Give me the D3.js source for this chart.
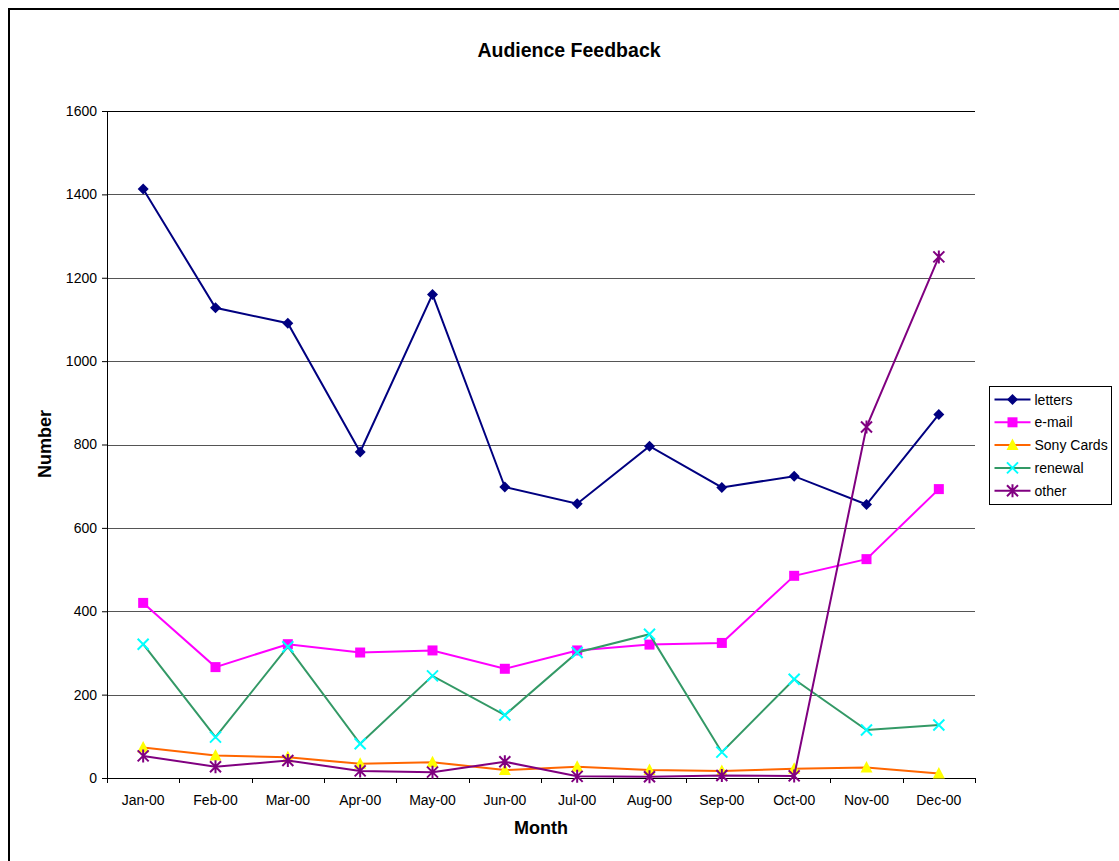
<!DOCTYPE html>
<html>
<head>
<meta charset="utf-8">
<script src="https://cdn.jsdelivr.net/npm/d3@7"></script>
<style>
  body { margin: 0; background: #fff; }
  text { font-family: "Liberation Sans", Arial, sans-serif; fill: #000; }
</style>
</head>
<body>
<svg id="chart"></svg>
<script>
// chart values
const months = ['Jan-00', 'Feb-00', 'Mar-00', 'Apr-00', 'May-00', 'Jun-00',
                'Jul-00', 'Aug-00', 'Sep-00', 'Oct-00', 'Nov-00', 'Dec-00'];
const letters = [1413, 1128, 1091, 782, 1160, 698, 658, 796, 697, 724, 656, 872];
const email = [420, 266, 321, 301, 306, 262, 306, 320, 324, 485, 525, 693];
const sonyCards = [73, 54, 50, 34, 38, 19, 27, 19, 17, 22, 25, 11];
const renewal = [321, 98, 315, 82, 245, 151, 301, 345, 62, 237, 115, 127];
const other = [53, 27, 42, 17, 14, 39, 4, 3, 6, 5, 842, 1250];
const yTicks = [0, 200, 400, 600, 800, 1000, 1200, 1400, 1600];

const series = [
    { name: 'letters', values: letters, line: '#000080', fill: '#000080', marker: 'diamond' },
    { name: 'e-mail', values: email, line: '#FF00FF', fill: '#FF00FF', marker: 'square' },
    { name: 'Sony Cards', values: sonyCards, line: '#FF6600', fill: '#FFFF00', marker: 'triangle' },
    { name: 'renewal', values: renewal, line: '#339966', fill: '#00FFFF', marker: 'cross' },
    { name: 'other', values: other, line: '#800080', fill: '#800080', marker: 'star' }
];

const W = 1119, H = 861;
const margin = { top: 111, right: 144, bottom: 83, left: 107 };
const width = W - margin.left - margin.right;
const height = H - margin.top - margin.bottom;

const svg = d3.select('#chart').attr('width', W).attr('height', H);

// outer chart border (only left and top visible)
svg.append('rect')
    .attr('x', 9).attr('y', 9)
    .attr('width', 1200).attr('height', 1000)
    .attr('fill', 'none').attr('stroke', '#000').attr('stroke-width', 2);

const chart = svg.append('g')
    .attr('transform', `translate(${margin.left},${margin.top})`);

const xScale = d3.scaleBand().domain(months).range([0, width]);
const yScale = d3.scaleLinear().domain([0, 1600]).range([height, 0]);

// gridlines
chart.append('g')
    .selectAll('line')
    .data(yTicks.filter(d => d > 0))
    .join('line')
    .attr('x1', 0).attr('x2', width)
    .attr('y1', d => Math.round(yScale(d)) + 0.5)
    .attr('y2', d => Math.round(yScale(d)) + 0.5)
    .attr('stroke', d => d === 1600 ? '#000' : '#555')
    .attr('stroke-width', 1);

// y axis
const yAxis = d3.axisLeft(yScale).tickValues(yTicks).tickFormat(d3.format('d'))
    .tickSize(5).tickPadding(5).tickSizeOuter(0);
const yAxisGroup = chart.append('g').call(yAxis);
yAxisGroup.select('.domain').attr('stroke', '#000');
yAxisGroup.selectAll('text').style('font-size', '14px').style('font-family', '"Liberation Sans", Arial, sans-serif');

// x axis with ticks between categories
const xAxisGroup = chart.append('g').attr('transform', `translate(0,${height})`);
xAxisGroup.append('line')
    .attr('x1', 0).attr('x2', width)
    .attr('y1', 0.5).attr('y2', 0.5)
    .attr('stroke', '#000');
xAxisGroup.selectAll('.tick-mark')
    .data(d3.range(months.length + 1))
    .join('line')
    .attr('class', 'tick-mark')
    .attr('x1', i => Math.round(i * xScale.step()) + 0.5)
    .attr('x2', i => Math.round(i * xScale.step()) + 0.5)
    .attr('y1', 0).attr('y2', 5)
    .attr('stroke', '#000');
xAxisGroup.selectAll('.tick-label')
    .data(months)
    .join('text')
    .attr('class', 'tick-label')
    .attr('x', d => xScale(d) + xScale.bandwidth() / 2)
    .attr('y', 27)
    .attr('text-anchor', 'middle')
    .style('font-size', '14px')
    .text(d => d);

// titles
svg.append('text')
    .attr('x', 569).attr('y', 57)
    .attr('text-anchor', 'middle')
    .style('font-size', '19.5px').style('font-weight', 'bold')
    .text('Audience Feedback');

svg.append('text')
    .attr('x', 541).attr('y', 834)
    .attr('text-anchor', 'middle')
    .style('font-size', '18px').style('font-weight', 'bold')
    .text('Month');

svg.append('text')
    .attr('transform', 'translate(51,444) rotate(-90)')
    .attr('text-anchor', 'middle')
    .style('font-size', '18px').style('font-weight', 'bold')
    .text('Number');

function drawMarker(g, type, fill) {
    if (type === 'diamond') {
        g.append('path').attr('d', 'M0,-5.5L5.5,0L0,5.5L-5.5,0Z').attr('fill', fill);
    } else if (type === 'square') {
        g.append('rect').attr('x', -5).attr('y', -5).attr('width', 10).attr('height', 10).attr('fill', fill);
    } else if (type === 'triangle') {
        g.append('path').attr('d', 'M0,-6.5L6,5L-6,5Z').attr('fill', fill);
    } else if (type === 'cross') {
        g.append('path').attr('d', 'M-5.5,-5.5L5.5,5.5M-5.5,5.5L5.5,-5.5').attr('stroke', fill).attr('stroke-width', 2).attr('fill', 'none');
    } else if (type === 'star') {
        g.append('path').attr('d', 'M-5.5,-5.5L5.5,5.5M-5.5,5.5L5.5,-5.5M0,-6.5L0,6.5').attr('stroke', fill).attr('stroke-width', 2).attr('fill', 'none');
    }
}

const line = d3.line()
    .x((d, i) => xScale(months[i]) + xScale.bandwidth() / 2)
    .y(d => yScale(d));

series.forEach(s => {
    const g = chart.append('g');
    g.append('path')
        .datum(s.values)
        .attr('d', line)
        .attr('fill', 'none')
        .attr('stroke', s.line)
        .attr('stroke-width', 2);
    s.values.forEach((v, i) => {
        const m = g.append('g')
            .attr('transform', `translate(${xScale(months[i]) + xScale.bandwidth() / 2},${yScale(v)})`);
        drawMarker(m, s.marker, s.fill);
    });
});

// legend
const legend = svg.append('g').attr('transform', 'translate(989.5,386.5)');
legend.append('rect')
    .attr('width', 122).attr('height', 118)
    .attr('fill', '#fff').attr('stroke', '#000').attr('stroke-width', 1);
series.forEach((s, i) => {
    const row = legend.append('g').attr('transform', `translate(0,${13 + i * 22.8})`);
    row.append('line')
        .attr('x1', 5).attr('x2', 41)
        .attr('stroke', s.line).attr('stroke-width', 2);
    const m = row.append('g').attr('transform', 'translate(23,0)');
    drawMarker(m, s.marker, s.fill);
    row.append('text')
        .attr('x', 45).attr('y', 5)
        .style('font-size', '14px')
        .text(s.name);
});
</script>
</body>
</html>
